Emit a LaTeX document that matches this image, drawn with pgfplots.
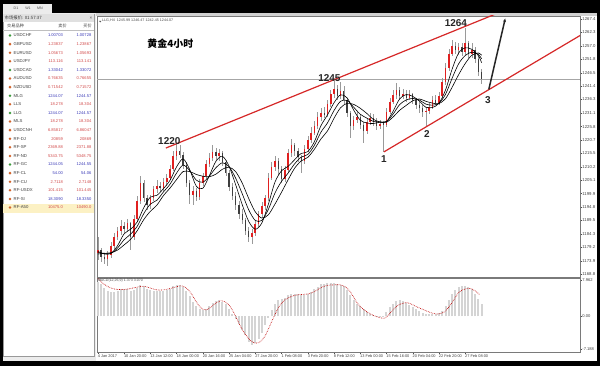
\documentclass[border=0pt]{standalone}
\usepackage{pgfplots}
\pgfplotsset{compat=1.18}
\usepackage{pgfplotstable}
\usetikzlibrary{arrows.meta}
\usepackage{fontspec}
\setmainfont{Liberation Sans}
\newfontfamily\cjk{Noto Sans CJK SC}
\definecolor{upc}{HTML}{E02020}
\definecolor{dnc}{HTML}{3E3E3E}
\definecolor{wickc}{HTML}{9A9A9A}
\definecolor{trend}{HTML}{D62828}
\definecolor{bluev}{HTML}{3A3AB8}
\definecolor{redv}{HTML}{D24A4A}
\definecolor{icong}{HTML}{3C9A3C}
\definecolor{iconr}{HTML}{D2642C}
\definecolor{wingray}{HTML}{ECECEC}
\definecolor{framec}{HTML}{7A7A7A}
\definecolor{hl}{HTML}{FCF1C4}
\newcommand\sz[1]{\fontsize{#1}{#1}\selectfont}

\pgfplotstableread{
x o h l c
0 1177 1183 1174 1178
2 1178 1179 1173.5 1175.5
4 1175.5 1177 1172.5 1174.5
6 1174.5 1177.5 1172 1176
8 1176 1181 1175 1179.5
10 1179.5 1184.5 1178.5 1183
12 1183 1187 1182 1185.5
14 1185.5 1189.5 1184 1187.5
16 1187.5 1189 1184.5 1186
18 1186 1190 1185 1188.5
20 1188.5 1189 1178 1183
22 1183 1191.5 1182 1190
24 1190 1199 1189 1197
26 1197 1206.5 1196 1204
28 1204 1205 1196.5 1198
30 1198 1199.5 1193.5 1195.5
32 1195.5 1199.5 1194 1198
34 1198 1203 1197 1201.5
36 1201.5 1205 1200 1203
38 1203 1204.5 1200.5 1202
40 1202 1206 1201 1204.5
42 1204.5 1207.5 1203 1206
44 1206 1211 1205 1209.5
46 1209.5 1216.5 1208.5 1214.5
48 1214.5 1219.5 1213 1216.5
50 1216.5 1218.5 1213.5 1215
52 1215 1216 1209.5 1211
54 1211 1212 1202.5 1204
56 1204 1205 1196 1199.5
58 1199.5 1203 1195.5 1201
60 1201 1202 1197 1198.5
62 1198.5 1205.5 1197.5 1204
64 1204 1208 1203 1206.5
66 1206.5 1213 1205.5 1211.5
68 1211.5 1215.5 1210 1213.5
70 1213.5 1218.5 1212.5 1216
72 1216 1217.5 1213 1214.5
74 1214.5 1217 1212.5 1215.5
76 1215.5 1216.5 1210.5 1212
78 1212 1213 1206.5 1208
80 1208 1209 1201 1202.5
82 1202.5 1204 1197.5 1199
84 1199 1200.5 1193.5 1195.5
86 1195.5 1197 1190 1192
88 1192 1194 1188 1189.5
90 1189.5 1190.5 1184 1185.5
92 1185.5 1187 1181 1183
94 1183 1186 1180.5 1184.5
96 1184.5 1189.5 1183.5 1188
98 1188 1193 1187 1192
100 1192 1196.5 1190.5 1195
102 1195 1199.5 1193.5 1198
104 1198 1208 1197 1206
106 1206 1212 1205 1210
108 1210 1214.5 1208.5 1212.5
110 1212.5 1213.5 1207 1209.5
112 1209.5 1210.5 1204 1205.5
114 1205.5 1210.5 1204.5 1209
116 1209 1217 1208 1215.5
118 1215.5 1221 1214 1218.5
120 1218.5 1219.5 1214.5 1216.5
122 1216.5 1217.5 1212 1214
124 1214 1215 1208 1212.5
126 1212.5 1218.5 1211.5 1217
128 1217 1222 1216 1220.5
130 1220.5 1225.5 1219.5 1223.5
132 1223.5 1228 1222.5 1226
134 1226 1231.5 1225 1229.5
136 1229.5 1233 1228 1231
138 1231 1233.5 1229 1230.5
140 1230.5 1236 1229.5 1234.5
142 1234.5 1240 1233.5 1238.5
144 1238.5 1244 1237 1240.5
146 1240.5 1242 1236 1237.5
148 1237.5 1243 1236.5 1239.5
150 1239.5 1241.5 1234.5 1236
152 1236 1237 1229.5 1231
154 1231 1232 1221.5 1226
156 1226 1230 1224.5 1228.5
158 1228.5 1231.5 1227 1229.5
160 1229.5 1230.5 1225 1226.5
162 1226.5 1227.5 1219.5 1224
164 1224 1229 1223 1227.5
166 1227.5 1231 1226.5 1229
168 1229 1230.5 1226 1228
170 1228 1229 1224.5 1226
172 1226 1228.5 1225 1227
174 1227 1228 1216 1226.5
176 1226.5 1233 1225.5 1231.5
178 1231.5 1237 1230.5 1235.5
180 1235.5 1240 1234.5 1238
182 1238 1242.5 1236.5 1240
184 1240 1241 1236 1237.5
186 1237.5 1240.5 1236.5 1238.5
188 1238.5 1240 1235.5 1237
190 1237 1240 1236 1238.5
192 1238.5 1239 1234.5 1236
194 1236 1237 1232.5 1234
196 1234 1235.5 1231 1233
198 1233 1234 1229.5 1231.5
200 1231.5 1233.5 1225.5 1232
202 1232 1235 1230.5 1233.5
204 1233.5 1237.5 1232.5 1236
206 1236 1238 1234 1235
208 1235 1239 1234 1237.5
210 1237.5 1244.5 1236.5 1243
212 1243 1250.5 1242 1248.5
214 1248.5 1256 1247.5 1254
216 1254 1259.5 1253 1257
218 1257 1258.5 1254 1255.5
220 1255.5 1258 1253.5 1256.5
222 1256.5 1258 1253 1254.5
224 1254.5 1264 1253.5 1258
226 1258 1259 1252.5 1254
228 1254 1258 1252.5 1255.5
230 1255.5 1256.5 1250.5 1252
232 1252 1253 1245.5 1247
234 1247 1248 1242.45 1244.07
}\candles

\pgfplotstableread{
x v
0 7.6
2 7.0
4 6.3
6 5.6
8 5.3
10 5.4
12 5.6
14 5.9
16 6.0
18 6.0
20 5.6
22 5.8
24 6.3
26 6.9
28 6.6
30 6.0
32 5.7
34 5.6
36 5.6
38 5.5
40 5.5
42 5.7
44 6.1
46 6.6
48 6.9
50 6.8
52 6.4
54 5.5
56 4.4
58 3.2
60 2.2
62 1.6
64 1.3
66 1.5
68 2.2
70 3.0
72 3.4
74 3.5
76 3.2
78 2.6
80 1.7
82 0.6
84 -0.6
86 -1.8
88 -2.9
90 -4.2
92 -5.6
94 -6.4
96 -5.9
98 -4.9
100 -3.6
102 -1.9
104 -0.3
106 1.3
108 2.6
110 3.5
112 3.8
114 4.0
116 4.6
118 5.0
120 5.0
122 4.8
124 4.6
126 4.7
128 5.0
130 5.4
132 5.9
134 6.5
136 7.0
138 7.2
140 7.3
142 7.4
144 7.4
146 7.2
148 6.9
150 6.6
152 5.8
154 4.6
156 3.6
158 2.8
160 2.2
162 1.6
164 1.0
166 0.6
168 0.3
170 0.05
172 -0.2
174 0.05
176 1.0
178 2.0
180 2.8
182 3.3
184 3.5
186 3.4
188 3.0
190 2.5
192 2.0
194 1.5
196 1.1
198 0.8
200 0.6
202 0.5
204 0.5
206 0.6
208 0.8
210 1.2
212 2.2
214 3.6
216 4.9
218 5.8
220 6.4
222 6.6
224 6.7
226 6.5
228 5.9
230 4.9
232 3.8
234 2.7
}\macdhist

\pgfplotstableread{
x s
0 8.3
4 7.0
8 6.2
12 5.9
16 5.9
20 6.1
24 6.4
28 6.6
32 6.2
36 5.8
40 5.8
44 6.1
48 6.5
51 6.7
54 6.2
57 5.0
60 3.2
63 1.8
66 1.4
69 2.0
72 2.9
75 3.4
78 3.1
81 2.0
84 0.0
87 -2.2
90 -4.0
93 -5.3
96 -5.9
99 -5.6
102 -4.3
105 -2.0
108 0.4
111 2.4
114 3.6
117 4.2
120 4.6
124 4.8
128 4.9
132 5.4
136 6.3
140 6.8
144 6.9
148 6.9
152 6.2
155 4.8
158 3.0
161 1.8
164 1.0
168 0.2
172 -0.3
175 -0.4
178 0.6
181 1.8
184 2.6
188 3.0
191 2.7
195 2.0
199 1.4
203 0.8
207 0.5
211 0.9
214 2.0
217 3.6
220 5.2
223 5.9
227 6.1
230 5.6
233 4.7
}\macdsig

\begin{document}
\begin{tikzpicture}[x=1bp,y=1bp]
% frame
\fill[black] (0,0) rectangle (600,366);
% tabs strip
\fill[wingray] (3,353) rectangle (52,362);
\node[font=\sz{3.6}, text=black!70] at (16,357.5) {D1};
\node[font=\sz{3.6}, text=black!70] at (28,357.5) {W1};
\node[font=\sz{3.6}, text=black!70] at (40,357.5) {MN};
% left window
\fill[wingray] (3,5) rectangle (96,353);
\fill[white] (3,10) rectangle (94,352);
\draw[black!40, line width=0.4bp] (3,10) rectangle (94,352);
\fill[black!12] (3,344) rectangle (94,352);
\node[font=\cjk\sz{4.4}, anchor=west, text=black!80, inner sep=0pt] at (4.5,348) {市场报价: 01:57:37};
\node[font=\sz{4.5}, text=black!70, inner sep=0pt] at (91,348) {×};
\draw[black!25, line width=0.3bp] (3,336) -- (94,336);
\node[font=\cjk\sz{4.2}, anchor=west, text=black!75, inner sep=0pt] at (7,340) {交易品种};
\node[font=\cjk\sz{4.2}, anchor=east, text=black!75, inner sep=0pt] at (67,340) {卖价};
\node[font=\cjk\sz{4.2}, anchor=east, text=black!75, inner sep=0pt] at (92,340) {买价};
\fill[hl] (3,153.5) rectangle (94,162.5);
\foreach \i/\n/\b/\a/\vc/\ic in {
 0/USDCHF/1.00703/1.00728/bluev/icong,
 1/GBPUSD/1.23837/1.23867/redv/iconr,
 2/EURUSD/1.05673/1.05693/redv/iconr,
 3/USDJPY/113.116/113.141/redv/iconr,
 4/USDCAD/1.33042/1.33072/bluev/icong,
 5/AUDUSD/0.76635/0.76655/redv/iconr,
 6/NZDUSD/0.71542/0.71572/redv/iconr,
 7/MLG/1244.07/1244.57/bluev/icong,
 8/LLS/18.278/18.304/redv/iconr,
 9/LLG/1244.07/1244.57/bluev/icong,
 10/MLS/18.278/18.304/redv/iconr,
 11/USDCNH/6.85817/6.86047/redv/iconr,
 12/RF-DJ/20859/20869/redv/iconr,
 13/RF-SP/2369.88/2371.88/redv/iconr,
 14/RF-ND/5343.75/5348.75/redv/iconr,
 15/RF-GC/1244.05/1244.55/bluev/icong,
 16/RF-CL/54.00/54.06/bluev/iconr,
 17/RF-CU/2.7118/2.7148/redv/iconr,
 18/RF-USDX/101.415/101.445/redv/iconr,
 19/RF-SI/18.3090/18.3350/bluev/iconr,
 20/RF-A50/10475.0/10490.0/redv/iconr}{
  \pgfmathsetmacro\yy{366-35.5-8.6*\i}
  \fill[\ic] (8.6,\yy) -- (10,\yy+1.4) -- (11.4,\yy) -- (10,\yy-1.4) -- cycle;
  \node[font=\sz{4.3}, anchor=west, text=black!75, inner sep=0pt] at (13.5,\yy) {\n};
  \node[font=\sz{4.1}, anchor=east, text=\vc, inner sep=0pt] at (63,\yy) {\b};
  \node[font=\sz{4.1}, anchor=east, text=\vc, inner sep=0pt] at (91.5,\yy) {\a};
}
% chart window
\fill[white] (96,5) rectangle (597,353);
\fill[black!18] (96,350) rectangle (597,353);

% main price axis
\begin{axis}[
  at={(97bp,89bp)}, anchor=south west, scale only axis,
  width=483bp, height=261bp,
  xmin=-0.5, xmax=294, ymin=1167.6, ymax=1268.6,
  xtick=\empty,
  ytick={1168.8,1173.9,1179.2,1184.3,1189.5,1194.8,1199.9,1205.1,1210.2,1215.5,1220.7,1225.8,1231.1,1236.3,1241.4,1246.5,1251.8,1257.0,1262.3,1267.4},
  yticklabels={1168.8,1173.9,1179.2,1184.3,1189.5,1194.8,1199.9,1205.1,1210.2,1215.5,1220.7,1225.8,1231.1,1236.3,1241.4,1246.5,1251.8,1257.0,1262.3,1267.4},
  yticklabel pos=right, ytick pos=right, tick align=outside,
  major tick length=1.6bp,
  tick style={draw=black!70, line width=0.3bp},
  yticklabel style={font=\sz{4.3}, text=black!75, inner sep=0.6bp},
  axis line style={draw=framec, line width=0.5bp},
  clip=true,
]
\addplot[black!35, line width=0.4bp, forget plot] coordinates {(-0.5,1244.07) (294,1244.07)};
% wicks
\addplot[draw=none, mark=none, forget plot,
  error bars/.cd, y dir=both, y explicit, error mark=none,
  error bar style={draw=wickc, line width=0.45bp}]
  table[x=x, y expr={(\thisrow{h}+\thisrow{l})/2}, y error expr={(\thisrow{h}-\thisrow{l})/2}] {\candles};
% up bodies
\addplot[draw=none, mark=none, forget plot,
  restrict expr to domain={\thisrow{c}-\thisrow{o}}{0:1000},
  error bars/.cd, y dir=both, y explicit, error mark=none,
  error bar style={draw=upc, line width=1.6bp}]
  table[x=x, y expr={(\thisrow{o}+\thisrow{c})/2}, y error expr={abs(\thisrow{c}-\thisrow{o})/2}] {\candles};
% down bodies
\addplot[draw=none, mark=none, forget plot,
  restrict expr to domain={\thisrow{c}-\thisrow{o}}{-1000:-0.001},
  error bars/.cd, y dir=both, y explicit, error mark=none,
  error bar style={draw=dnc, line width=1.3bp}]
  table[x=x, y expr={(\thisrow{o}+\thisrow{c})/2}, y error expr={abs(\thisrow{c}-\thisrow{o})/2}] {\candles};
% moving averages
\addplot[black, line width=0.6bp, smooth] coordinates {(0,1177.5) (4,1176.5) (8,1176.7) (12,1179.7) (16,1184.3) (20,1186.1) (24,1188.9) (28,1194.4) (32,1198.5) (36,1199.2) (40,1201.8) (44,1205) (48,1210.2) (52,1213.3) (56,1209.2) (60,1202.8) (64,1201.9) (68,1206.8) (72,1212.4) (76,1214.3) (80,1210.5) (84,1203.4) (88,1195.7) (92,1189.1) (96,1186.1) (100,1188.5) (104,1195.8) (108,1204.3) (112,1208.7) (116,1210.4) (120,1213) (124,1215.4) (128,1216.1) (132,1219.9) (136,1226.1) (140,1230.3) (144,1235) (148,1238.1) (152,1236.9) (156,1232.2) (160,1228.3) (164,1227.2) (168,1227) (172,1227.5) (176,1227.8) (180,1231.7) (184,1236.5) (188,1238.2) (192,1237.5) (196,1235.7) (200,1233.3) (204,1233.2) (208,1234.8) (212,1240) (216,1248) (220,1254.3) (224,1256.3) (228,1255.7) (232,1253.3) (234,1250.5)};
\addplot[black, line width=0.6bp, smooth] coordinates {(0,1177) (8,1176.8) (12,1178.8) (16,1182) (20,1184.2) (24,1187.2) (28,1192.1) (32,1195.8) (36,1197.3) (40,1200.5) (44,1203.5) (48,1207.8) (52,1210.9) (56,1208.8) (60,1205.1) (64,1204.3) (68,1206.6) (72,1209.9) (76,1211.8) (80,1210.3) (84,1205.9) (88,1199.9) (92,1193.6) (96,1189.5) (100,1189.5) (104,1193.8) (108,1200.1) (112,1204.6) (116,1207.8) (120,1211.4) (124,1214) (128,1215) (132,1218.5) (136,1223.6) (140,1227.2) (144,1232) (148,1235.6) (152,1235.9) (156,1233.3) (160,1230.6) (164,1229.1) (168,1227.8) (172,1227.6) (176,1227.7) (180,1230.6) (184,1234.3) (188,1236.1) (192,1236.7) (196,1236.1) (200,1234.5) (204,1234.1) (208,1234.8) (212,1238.3) (216,1244.5) (220,1250.1) (224,1253.3) (228,1254.6) (232,1253.8) (234,1252)};
\addplot[black, line width=0.6bp, smooth] coordinates {(0,1176.5) (8,1177) (12,1178) (16,1180) (20,1182.2) (24,1185.5) (28,1189.8) (32,1193) (36,1195.4) (40,1199.1) (44,1202) (48,1205.3) (52,1208.4) (56,1208.4) (60,1207.3) (64,1206.6) (68,1206.4) (72,1207.4) (76,1209.3) (80,1210.1) (84,1208.4) (88,1204) (92,1198) (96,1192.8) (100,1190.4) (104,1191.7) (108,1195.8) (112,1200.4) (116,1205.2) (120,1209.7) (124,1212.5) (128,1213.9) (132,1217) (136,1221) (140,1224.1) (144,1229) (148,1233.1) (152,1234.8) (156,1234.4) (160,1232.9) (164,1230.9) (168,1228.6) (172,1227.6) (176,1227.5) (180,1229.5) (184,1232.1) (188,1234) (192,1235.8) (196,1236.5) (200,1235.6) (204,1234.9) (208,1234.7) (212,1236.6) (216,1241) (220,1245.9) (224,1250.2) (228,1253.4) (232,1254.3) (234,1253.4)};
% trend lines
\addplot[trend, line width=1.2bp] coordinates {(41.5,1217.5) (250,1271.3)};
\addplot[trend, line width=1.2bp] coordinates {(174.4,1216) (300,1263.3)};
\addplot[black!85, line width=1.5bp, -{Stealth[length=3.5bp,width=3bp]}] coordinates {(238.4,1240.2) (248.4,1267.6)};
% annotations
\node[font=\bfseries\sz{10}, text=black!85] at (axis cs:218.3,1265.8) {1264};
\node[font=\bfseries\sz{10}, text=black!85] at (axis cs:141.2,1244.4) {1245};
\node[font=\bfseries\sz{10}, text=black!85] at (axis cs:43.6,1220.2) {1220};
\node[font=\bfseries\sz{10}, text=black!85] at (axis cs:174.4,1213.3) {1};
\node[font=\bfseries\sz{10}, text=black!85] at (axis cs:200.6,1223.1) {2};
\node[font=\bfseries\sz{10}, text=black!85] at (axis cs:237.8,1236.1) {3};
\node[font=\cjk\bfseries\sz{10}, text=black] at (axis cs:44.2,1257.9) {黄金4小时};
\node[font=\sz{3.7}, text=black!70, anchor=west, inner sep=0pt] at (axis cs:2.5,1266.9) {LLG,H4\ \ 1245.99 1246.47 1242.45 1244.07};
\node[fill=black, text=white, font=\sz{4.1}, anchor=west, inner sep=0.6bp] at (axis cs:294,1244.07) {1244.07};
\end{axis}

% MACD axis
\begin{axis}[
  at={(97bp,14bp)}, anchor=south west, scale only axis,
  width=483bp, height=74bp,
  xmin=-0.5, xmax=294, ymin=-7.84, ymax=8.41,
  xtick={0,16,32,48,64,80,96,112,128,144,160,176,192,208,224},
  xticklabels={4 Jan 2017,10 Jan 20:00,13 Jan 12:00,18 Jan 00:00,20 Jan 16:00,25 Jan 04:00,27 Jan 20:00,1 Feb 08:00,3 Feb 20:00,8 Feb 12:00,13 Feb 00:00,15 Feb 16:00,20 Feb 04:00,22 Feb 20:00,27 Feb 08:00},
  xticklabel style={font=\sz{3.9}, text=black!75, anchor=north west, inner sep=0.6bp, xshift=-0.8bp},
  xtick pos=bottom,
  ytick={-7.188,0,7.962}, yticklabels={-7.188,0.00,7.962},
  yticklabel pos=right, ytick pos=right, tick align=outside,
  major tick length=1.6bp,
  tick style={draw=black!70, line width=0.3bp},
  yticklabel style={font=\sz{4.1}, text=black!75, inner sep=0.6bp},
  axis line style={draw=framec, line width=0.5bp},
  clip=true,
]
\addplot[ycomb, black!17, line width=2bp] table[x=x, y=v] {\macdhist};
\addplot[red!75!black, densely dotted, line width=0.65bp, smooth] table[x=x, y=s] {\macdsig};
\node[font=\sz{3.6}, text=black!70, anchor=north west, inner sep=0.8bp] at (rel axis cs:0,1) {MACD(12,26,9) 1.373 3.070};
\end{axis}
\fill[black!70] (99,345.2) -- (101.4,345.2) -- (100.2,343.6) -- cycle;
\pgfresetboundingbox
\path (0,0) rectangle (600,366);
\end{tikzpicture}
\end{document}
